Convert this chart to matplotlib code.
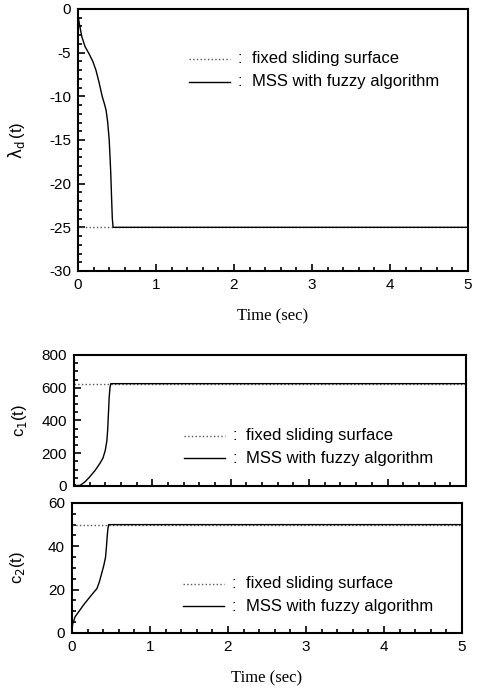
import numpy as np
import matplotlib
matplotlib.use("Agg")
import matplotlib.pyplot as plt
from matplotlib.ticker import MultipleLocator

# ---- data ----
t_end = 5.0
lam_fixed = -25.0
c1_fixed = 625.0
c2_fixed = 50.0

lam_t = [0.0, 0.01, 0.03, 0.05, 0.09, 0.14, 0.19, 0.23, 0.27, 0.31, 0.34, 0.36, 0.38, 0.40, 0.41, 0.42, 0.43, 0.44, 0.45, 5.0]
lam_v = [-0.5, -1.3, -2.3, -3.2, -4.3, -5.1, -6.0, -7.0, -8.4, -10.0, -10.9, -11.6, -12.9, -15.0, -16.8, -18.8, -21.5, -24.0, -25.0, -25.0]

c1_t = [0.0, 0.01, 0.03, 0.08, 0.14, 0.2, 0.27, 0.33, 0.37, 0.40, 0.42, 0.43, 0.44, 0.45, 0.46, 0.47, 5.0]
c1_v = [0.0, 10.0, 2.0, 4.0, 25.0, 55.0, 95.0, 137.0, 170.0, 218.0, 275.0, 340.0, 440.0, 545.0, 600.0, 625.0, 625.0]

c2_t = [0.0, 0.01, 0.04, 0.1, 0.16, 0.23, 0.28, 0.32, 0.35, 0.38, 0.41, 0.43, 0.44, 0.45, 0.46, 0.47, 5.0]
c2_v = [2.0, 4.3, 7.5, 10.5, 13.5, 16.6, 18.8, 20.5, 23.5, 27.4, 31.5, 35.0, 39.0, 44.0, 48.0, 50.0, 50.0]

legend_labels = ["fixed sliding surface", "MSS with fuzzy algorithm"]

plt.rcParams['font.family'] = ['Liberation Sans', 'DejaVu Sans']
plt.rcParams['axes.unicode_minus'] = False

fig = plt.figure(figsize=(4.8, 6.92), dpi=100)

def style(ax, ymajor, yminor):
    ax.xaxis.set_major_locator(MultipleLocator(1))
    ax.xaxis.set_minor_locator(MultipleLocator(0.2))
    ax.yaxis.set_major_locator(MultipleLocator(ymajor))
    ax.yaxis.set_minor_locator(MultipleLocator(yminor))
    ax.tick_params(which='both', direction='in', top=False, right=False,
                   labelsize=11, width=1.2)
    ax.tick_params(which='major', length=5, pad=5)
    ax.tick_params(which='minor', length=3)
    for s in ax.spines.values():
        s.set_linewidth(1.5)

def legend_text(ax, x0, y0, dy):
    ax.plot([x0, x0 + 0.105], [y0, y0], ls=':', color='#555555', lw=1.0,
            transform=ax.transAxes, clip_on=False)
    ax.plot([x0, x0 + 0.105], [y0 - dy, y0 - dy], ls='-', color='black', lw=1.0,
            transform=ax.transAxes, clip_on=False)
    ax.text(x0 + 0.125, y0, ":", transform=ax.transAxes, va='center', fontsize=12)
    ax.text(x0 + 0.125, y0 - dy, ":", transform=ax.transAxes, va='center', fontsize=12)
    ax.text(x0 + 0.16, y0, legend_labels[0], transform=ax.transAxes, va='center', fontsize=12)
    ax.text(x0 + 0.16, y0 - dy, legend_labels[1], transform=ax.transAxes, va='center', fontsize=12)

# top panel
ax1 = fig.add_axes([0.1625, 0.6084, 0.8125, 0.3786])
ax1.plot([0, t_end], [lam_fixed, lam_fixed], ls=':', color='#555555', lw=1.0)
ax1.plot(lam_t, lam_v, color='black', lw=1.0)
ax1.set_xlim(0, 5)
ax1.set_ylim(-30, 0)
style(ax1, 5, 1)
ax1.set_ylabel(r"$\mathrm{\lambda_d}\,$(t)", fontsize=12)
ax1.set_xlabel("Time (sec)", fontsize=12, family=['Liberation Serif'], labelpad=12)
legend_text(ax1, 0.285, 0.81, 0.088)

# c1 panel
ax2 = fig.add_axes([0.154, 0.2977, 0.8167, 0.1893])
ax2.plot([0, t_end], [c1_fixed, c1_fixed], ls=':', color='#555555', lw=1.0)
ax2.plot(c1_t, c1_v, color='black', lw=1.0)
ax2.set_xlim(0, 5)
ax2.set_ylim(0, 800)
style(ax2, 200, 50)
ax2.tick_params(axis='x', labelbottom=False)
ax2.set_ylabel(r"c$_1$(t)", fontsize=12)
legend_text(ax2, 0.28, 0.385, 0.175)

# c2 panel
ax3 = fig.add_axes([0.15, 0.0853, 0.8125, 0.1879])
ax3.plot([0, t_end], [c2_fixed, c2_fixed], ls=':', color='#555555', lw=1.0)
ax3.plot(c2_t, c2_v, color='black', lw=1.0)
ax3.set_xlim(0, 5)
ax3.set_ylim(0, 60)
style(ax3, 20, 5)
ax3.set_ylabel(r"c$_2$(t)", fontsize=12)
ax3.set_xlabel("Time (sec)", fontsize=12, family=['Liberation Serif'], labelpad=12)
legend_text(ax3, 0.285, 0.38, 0.175)

ax1.yaxis.set_label_coords(-0.13, 0.5)
ax2.yaxis.set_label_coords(-0.115, 0.5)
ax3.yaxis.set_label_coords(-0.115, 0.5)

fig.savefig("out.png", dpi=100)
